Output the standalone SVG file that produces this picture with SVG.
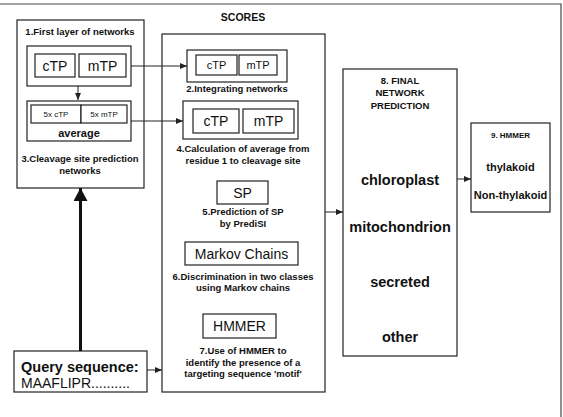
<svg xmlns="http://www.w3.org/2000/svg" width="563" height="417" viewBox="0 0 563 417">
<style>
rect{fill:#fff;stroke:#222;stroke-width:1.2}
text{font-family:"Liberation Sans",Arial,sans-serif;fill:#111;text-anchor:middle}
.s{font-size:9.5px;font-weight:bold}
.b{font-size:14px}
.m{font-size:11px}
.x{font-size:8px}
.L{font-size:14.5px;font-weight:bold}
.t{font-size:11px;font-weight:bold}
.st{text-anchor:start}
.c{stroke:#222;stroke-width:1;fill:none}
</style>
<defs>
<marker id="a" markerWidth="8" markerHeight="8" refX="7" refY="4" orient="auto" markerUnits="userSpaceOnUse"><path d="M0,1 L7,4 L0,7 Z" fill="#222"/></marker>
<marker id="A" markerWidth="14" markerHeight="16" refX="13" refY="7" orient="auto" markerUnits="userSpaceOnUse"><path d="M0,0 L13,7 L0,14 Z" fill="#111"/></marker>
</defs>
<g id="frame"><path d="M0,4 H561 V417" fill="none" stroke="#444" stroke-width="1.2"/></g>
<g id="n1">
<rect x="17" y="20" width="127" height="168"/>
<text class="s" x="80" y="35">1.First layer of networks</text>
<rect x="27" y="46" width="104" height="40"/>
<rect x="35" y="54" width="40" height="23"/>
<text class="b" x="55" y="71">cTP</text>
<rect x="79" y="54" width="47" height="23"/>
<text class="b" x="102.5" y="71">mTP</text>
<rect x="27" y="101" width="104" height="40"/>
<rect x="31" y="105" width="50" height="18"/>
<text class="x" x="56" y="117">5x cTP</text>
<rect x="81" y="105" width="46" height="18"/>
<text class="x" x="104" y="117">5x mTP</text>
<text class="m" x="79" y="137" font-weight="bold">average</text>
<text class="s" x="80" y="162">3.Cleavage site prediction</text>
<text class="s" x="80" y="174">networks</text>
</g>
<g id="scores">
<text x="243" y="21" style="font-size:10.5px;font-weight:bold">SCORES</text>
<rect x="162" y="34" width="163" height="358"/>
</g>
<g id="n2">
<rect x="187" y="50" width="100" height="32"/>
<rect x="196" y="55" width="41" height="20"/>
<text class="m" x="216.5" y="69">cTP</text>
<rect x="239" y="55" width="38" height="20"/>
<text class="m" x="258" y="69">mTP</text>
<text class="s" x="237" y="92">2.Integrating networks</text>
</g>
<g id="n4">
<rect x="183" y="101" width="115" height="38"/>
<rect x="193" y="109" width="46" height="24"/>
<text class="b" x="216" y="126">cTP</text>
<rect x="243" y="109" width="51" height="24"/>
<text class="b" x="268.5" y="126">mTP</text>
<text class="s" x="243" y="152">4.Calculation of average from</text>
<text class="s" x="243" y="164">residue 1 to cleavage site</text>
</g>
<g id="n5">
<rect x="217" y="181" width="51" height="23"/>
<text class="b" x="242.5" y="198">SP</text>
<text class="s" x="243" y="215">5.Prediction of SP</text>
<text class="s" x="243" y="227">by PrediSI</text>
</g>
<g id="n6">
<rect x="185" y="242" width="113" height="23"/>
<text class="b" x="241.5" y="259">Markov Chains</text>
<text class="s" x="243" y="280">6.Discrimination in two classes</text>
<text class="s" x="243" y="291">using Markov chains</text>
</g>
<g id="n7">
<rect x="203" y="314" width="73" height="24"/>
<text class="b" x="239.5" y="331">HMMER</text>
<text class="s" x="243" y="354">7.Use of HMMER to</text>
<text class="s" x="243" y="366">identify the presence of a</text>
<text class="s" x="243" y="377">targeting sequence 'motif'</text>
</g>
<g id="n8">
<rect x="343" y="69" width="114" height="287"/>
<text class="s" x="400" y="84">8. FINAL</text>
<text class="s" x="400" y="96">NETWORK</text>
<text class="s" x="400" y="109">PREDICTION</text>
<text class="L" x="400" y="185">chloroplast</text>
<text class="L" x="400" y="232">mitochondrion</text>
<text class="L" x="400" y="287">secreted</text>
<text class="L" x="400" y="342">other</text>
</g>
<g id="n9">
<rect x="471" y="123" width="79" height="89"/>
<text class="x" x="510.5" y="138" font-weight="bold">9. HMMER</text>
<text class="t" x="510.5" y="171">thylakoid</text>
<text class="t" x="510.5" y="199">Non-thylakoid</text>
</g>
<g id="query">
<rect x="14" y="351" width="133" height="41"/>
<text class="st" x="21" y="372" style="font-size:14.5px;font-weight:bold">Query sequence:</text>
<text class="st" x="21" y="388" style="font-size:14px">MAAFLIPR..........</text>
</g>
<g id="connectors">
<path class="c" d="M78,86 V100" marker-end="url(#a)"/>
<path class="c" d="M131,66 H187" marker-end="url(#a)"/>
<path class="c" d="M131,121 H183" marker-end="url(#a)"/>
<path class="c" d="M325,212 H343" marker-end="url(#a)"/>
<path class="c" d="M457,179 H471" marker-end="url(#a)"/>
<path class="c" d="M147,370 H162" stroke-width="2" marker-end="url(#a)"/>
<path d="M80.5,351 V188" stroke="#111" stroke-width="3" fill="none" marker-end="url(#A)"/>
</g>
</svg>
